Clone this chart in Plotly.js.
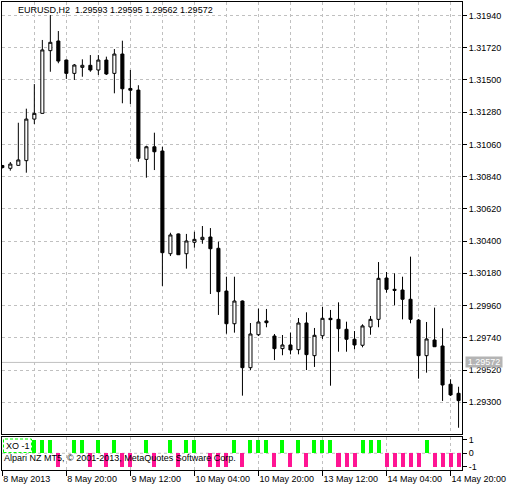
<!DOCTYPE html>
<html>
<head>
<meta charset="utf-8">
<script src="https://cdn.plot.ly/plotly-3.0.1.min.js"></script>
<style>
html,body{margin:0;padding:0;background:#fff;}
#chart{width:510px;height:487px;}
</style>
</head>
<body>
<div id="chart"></div>
<script>
// ---- data (EURUSD, H2) ----
const times = [
"2013.05.08 04:00","2013.05.08 06:00","2013.05.08 08:00","2013.05.08 10:00","2013.05.08 12:00","2013.05.08 14:00",
"2013.05.08 16:00","2013.05.08 18:00","2013.05.08 20:00","2013.05.08 22:00","2013.05.09 00:00","2013.05.09 02:00",
"2013.05.09 04:00","2013.05.09 06:00","2013.05.09 08:00","2013.05.09 10:00","2013.05.09 12:00","2013.05.09 14:00",
"2013.05.09 16:00","2013.05.09 18:00","2013.05.09 20:00","2013.05.09 22:00","2013.05.10 00:00","2013.05.10 02:00",
"2013.05.10 04:00","2013.05.10 06:00","2013.05.10 08:00","2013.05.10 10:00","2013.05.10 12:00","2013.05.10 14:00",
"2013.05.10 16:00","2013.05.10 18:00","2013.05.10 20:00","2013.05.10 22:00","2013.05.13 00:00","2013.05.13 02:00",
"2013.05.13 04:00","2013.05.13 06:00","2013.05.13 08:00","2013.05.13 10:00","2013.05.13 12:00","2013.05.13 14:00",
"2013.05.13 16:00","2013.05.13 18:00","2013.05.13 20:00","2013.05.13 22:00","2013.05.14 00:00","2013.05.14 02:00",
"2013.05.14 04:00","2013.05.14 06:00","2013.05.14 08:00","2013.05.14 10:00","2013.05.14 12:00","2013.05.14 14:00",
"2013.05.14 16:00","2013.05.14 18:00","2013.05.14 20:00","2013.05.14 22:00"
];
const open = [
1.30916,1.30897,1.30917,1.30949,1.31233,1.31272,1.31700,1.31766,1.31636,1.31545,
1.31586,1.31600,1.31568,1.31636,1.31545,1.31677,1.31442,1.31431,1.30958,1.31044,
1.31015,1.30314,1.30449,1.30314,1.30392,1.30410,1.30428,1.30351,1.30059,1.29836,
1.29991,1.29536,1.29761,1.29855,1.29752,1.29666,1.29691,1.29659,1.29841,1.29618,
1.29754,1.29873,1.29866,1.29798,1.29730,1.29689,1.29814,1.29866,1.30148,1.30071,
1.30066,1.30003,1.29861,1.29618,1.29725,1.29684,1.29423,1.29361
];
const high = [
1.30920,1.30940,1.31208,1.31304,1.31472,1.31773,1.31943,1.31834,1.31640,1.31609,
1.31641,1.31670,1.31670,1.31659,1.31711,1.31768,1.31568,1.31464,1.31051,1.31140,
1.31044,1.30457,1.30452,1.30449,1.30464,1.30503,1.30489,1.30396,1.30157,1.30157,
1.29995,1.29841,1.29939,1.29937,1.29766,1.29759,1.29775,1.29875,1.29914,1.29807,
1.29952,1.29930,1.29982,1.29850,1.29786,1.29832,1.29889,1.30257,1.30189,1.30180,
1.30157,1.30294,1.29868,1.29848,1.29946,1.29805,1.29457,1.29406
];
const low = [
1.30896,1.30881,1.30916,1.30867,1.31199,1.31271,1.31556,1.31614,1.31507,1.31500,
1.31522,1.31556,1.31534,1.31534,1.31409,1.31341,1.31336,1.30942,1.30833,1.30885,
1.30094,1.30298,1.30305,1.30212,1.30355,1.30382,1.30039,1.29896,1.29768,1.29775,
1.29345,1.29520,1.29752,1.29812,1.29588,1.29621,1.29627,1.29627,1.29520,1.29541,
1.29732,1.29413,1.29645,1.29645,1.29661,1.29675,1.29761,1.29812,1.30048,1.29962,
1.29866,1.29839,1.29461,1.29502,1.29677,1.29309,1.29343,1.29126
];
const close = [
1.30902,1.30926,1.30954,1.31233,1.31272,1.31705,1.31757,1.31629,1.31545,1.31602,
1.31600,1.31568,1.31636,1.31541,1.31677,1.31440,1.31430,1.30965,1.31044,1.31010,
1.30321,1.30442,1.30307,1.30401,1.30412,1.30426,1.30348,1.30055,1.29836,1.29991,
1.29536,1.29766,1.29848,1.29843,1.29666,1.29691,1.29657,1.29841,1.29625,1.29757,
1.29873,1.29864,1.29802,1.29730,1.29691,1.29821,1.29866,1.30146,1.30071,1.30064,
1.30003,1.29866,1.29618,1.29732,1.29679,1.29418,1.29350,1.29311
];
// XO indicator (+1 up box, -1 down box, 0 none)
const xo = [
0,0,0,0,1,1,1,-1,0,1,
1,-1,1,-1,1,-1,-1,0,1,-1,
0,1,-1,1,1,0,-1,-1,-1,1,
-1,1,1,1,-1,1,-1,1,-1,1,
1,1,-1,-1,-1,1,1,1,-1,-1,
-1,-1,-1,1,-1,-1,-1,-1
];
const xoLast = -1;
const labelTimes = ["2013.05.08 04:00","2013.05.08 20:00","2013.05.09 12:00","2013.05.10 04:00",
                    "2013.05.10 20:00","2013.05.13 12:00","2013.05.14 04:00","2013.05.14 20:00"];
const labelTexts = ["8 May 2013","8 May 20:00","9 May 12:00","10 May 04:00",
                    "10 May 20:00","13 May 12:00","14 May 04:00","14 May 20:00"];
const symbol = "EURUSD,H2";
const lastBar = [1.29593, 1.29595, 1.29562, 1.29572];
const bid = 1.29572;
const copyright = "Alpari NZ MT5, \u00a9 2001-2013, MetaQuotes Software Corp.";

// ---- chart ----
const FONT = "Liberation Sans, Arial, sans-serif";
const GRID = "#c0c0c0";
const gridTimes = times.filter((t, i) => i % 4 === 0);

const W = 510, H = 487, ML = 2, MR = 48, MT = 2, MB = 17;
const PW = W - ML - MR, PH = H - MT - MB;
const px = x => (x - ML) / PW;
const py = y => (H - MB - y) / PH;

const traces = [
  {
    type: "candlestick", x: times, open: open, high: high, low: low, close: close,
    xaxis: "x", yaxis: "y", whiskerwidth: 0, hoverinfo: "none",
    increasing: {line: {color: "#000", width: 1}, fillcolor: "#ffffff"},
    decreasing: {line: {color: "#000", width: 1}, fillcolor: "#000000"}
  },
  {
    type: "bar", x: times, y: xo, xaxis: "x2", yaxis: "y2", width: 0.5, hoverinfo: "none",
    marker: {color: xo.map(v => v > 0 ? "#00ff00" : "#ff1493"), line: {width: 0}}
  }
];

const layout = {
  width: W, height: H,
  margin: {l: ML, r: MR, t: MT, b: MB, pad: 0},
  paper_bgcolor: "#fff", plot_bgcolor: "#fff",
  showlegend: false, boxgap: 0.45, bargap: 0,
  font: {family: FONT, size: 9, color: "#000"},
  xaxis: {
    type: "category", domain: [0, 1], anchor: "y", range: [-0.04, 57.43],
    showline: true, mirror: true, linecolor: "#000", linewidth: 1,
    ticks: "", showticklabels: false, tickmode: "array", tickvals: gridTimes,
    showgrid: true, gridcolor: GRID, gridwidth: 1, griddash: "3px,3px",
    zeroline: false, rangeslider: {visible: false}, fixedrange: true
  },
  yaxis: {
    domain: [py(434), 1], anchor: "x", side: "right", range: [1.290833, 1.320322],
    tickmode: "linear", tick0: 1.2930, dtick: 0.0022, tickformat: ".5f",
    ticks: "outside", ticklen: 4, tickcolor: "#000", tickwidth: 1,
    showline: true, mirror: true, linecolor: "#000", linewidth: 1,
    showgrid: true, gridcolor: GRID, gridwidth: 1, griddash: "3px,3px",
    zeroline: false, fixedrange: true, tickfont: {size: 9}
  },
  xaxis2: {
    type: "category", matches: "x", anchor: "y2", domain: [0, 1],
    showline: true, mirror: true, linecolor: "#000", linewidth: 1,
    tickmode: "array", tickvals: labelTimes, ticktext: labelTexts,
    ticks: "outside", ticklen: 5, tickcolor: "#000", ticklabelposition: "outside right",
    showgrid: true, gridcolor: GRID, gridwidth: 1, griddash: "3px,3px",
    zeroline: false, fixedrange: true, tickfont: {size: 9}
  },
  yaxis2: {
    domain: [0, py(436.5)], anchor: "x2", side: "right", range: [-1.25, 1.25],
    tickmode: "array", tickvals: [-1, 0, 1], ticktext: ["-1", "0", "1"],
    ticks: "outside", ticklen: 4, tickcolor: "#000",
    showline: true, mirror: true, linecolor: "#000", linewidth: 1,
    showgrid: false, zeroline: false, fixedrange: true, tickfont: {size: 9}
  },
  shapes: [
    {type: "line", xref: "paper", x0: 0, x1: 1, yref: "y", y0: bid, y1: bid,
     line: {color: GRID, width: 1}, layer: "below"},
    {type: "line", xref: "paper", x0: 0, x1: 1, yref: "y2", y0: 0, y1: 0,
     line: {color: GRID, width: 1, dash: "3px,3px"}, layer: "below"},
    {type: "rect", xref: "paper", yref: "paper", x0: px(3.5), x1: px(31.5), y0: py(452.5), y1: py(439),
     line: {color: "#00ff00", width: 1, dash: "3px,2px"}, fillcolor: "#ffffff", layer: "above"}
  ],
  annotations: [
    {xref: "paper", yref: "paper", x: px(15.5), y: py(9.7), xanchor: "left", yanchor: "middle",
     showarrow: false, text: symbol + "\u00a0\u00a0" + lastBar.map(v => v.toFixed(5)).join(" "),
     font: {size: 9, color: "#000"}},
    {xref: "paper", yref: "paper", x: px(3.5), y: py(445.7), xanchor: "left", yanchor: "middle",
     showarrow: false, text: "XO " + xoLast, font: {size: 9, color: "#000"}},
    {xref: "paper", yref: "paper", x: px(1.5), y: py(458), xanchor: "left", yanchor: "middle",
     showarrow: false, text: copyright, font: {size: 9, color: "#000"}},
    {xref: "paper", yref: "y", x: 1, y: bid, xshift: 2.5, xanchor: "left", yanchor: "middle",
     showarrow: false, text: bid.toFixed(5), bgcolor: "#b4b4b4", borderpad: 0, width: 36, height: 10,
     align: "center", font: {size: 9, color: "#ffffff"}}
  ]
};

Plotly.newPlot("chart", traces, layout, {displayModeBar: false, staticPlot: true});
</script>
</body>
</html>
